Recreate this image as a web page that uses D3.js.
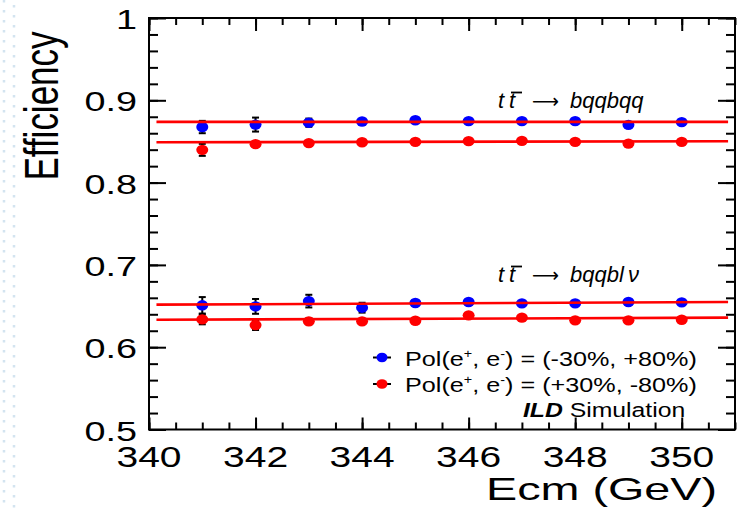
<!DOCTYPE html>
<html><head><meta charset="utf-8">
<script src="https://cdn.jsdelivr.net/npm/d3@7"></script>
<style>
body{margin:0;background:#fff}
svg{display:block}
text{font-family:"Liberation Sans",Arial,Helvetica,sans-serif;fill:#000}
</style>
</head><body>
<svg id="c" width="741" height="510"></svg>
<script>
// ---------------- data ----------------
const ecm = [341, 342, 343, 344, 345, 346, 347, 348, 349, 350];

// t tbar -> bqqbqq (fully hadronic)
const hadBlue    = [0.8675, 0.8705, 0.8728, 0.8743, 0.8757, 0.8747, 0.8747, 0.8747, 0.8702, 0.8735];
const hadBlueErr = [0.0075, 0.0085, 0.0050, 0.0020, 0.0020, 0.0020, 0.0020, 0.0020, 0.0020, 0.0020];
const hadRed     = [0.8398, 0.8467, 0.8480, 0.8490, 0.8495, 0.8504, 0.8507, 0.8495, 0.8474, 0.8495];
const hadRedErr  = [0.0073, 0.0025, 0.0020, 0.0020, 0.0020, 0.0020, 0.0020, 0.0020, 0.0020, 0.0020];

// t tbar -> bqqbl nu (semi-leptonic)
const semBlue    = [0.6509, 0.6496, 0.6560, 0.6480, 0.6537, 0.6549, 0.6533, 0.6533, 0.6549, 0.6545];
const semBlueErr = [0.0100, 0.0090, 0.0077, 0.0060, 0.0035, 0.0020, 0.0020, 0.0020, 0.0020, 0.0020];
const semRed     = [0.6338, 0.6269, 0.6314, 0.6314, 0.6322, 0.6387, 0.6359, 0.6326, 0.6326, 0.6334];
const semRedErr  = [0.0060, 0.0060, 0.0035, 0.0020, 0.0020, 0.0020, 0.0020, 0.0020, 0.0020, 0.0020];

// linear fits: value at start / end of fit range
const fitRange   = [340.14, 350.87];
const fitHadBlue = [0.8738, 0.8738];
const fitHadRed  = [0.8490, 0.8502];
const fitSemBlue = [0.6517, 0.6549];
const fitSemRed  = [0.6334, 0.6359];

// axes
const xDomain = [340, 351];
const yDomain = [0.5, 1];
const xTicks = [340, 342, 344, 346, 348, 350];
const xTickLabels = ["340", "342", "344", "346", "348", "350"];
const yTicks = [0.5, 0.6, 0.7, 0.8, 0.9, 1.0];
const yTickLabels = ["0.5", "0.6", "0.7", "0.8", "0.9", "1"];
const xTitle = "Ecm (GeV)";
const yTitle = "Efficiency";
const legendLabels = [["Pol(e", "+", ", e", "-", ") = (-30%, +80%)"],
                      ["Pol(e", "+", ", e", "-", ") = (+30%, -80%)"]];
const procTails = [["bqqbqq"], ["bqqbl", "\u03bd"]];
const colors = ["#0000ff", "#ff0000"];

// ---------------- drawing ----------------
const svg = d3.select("#c");
const x = d3.scaleLinear(xDomain, [149, 735]);
const y = d3.scaleLinear(yDomain, [429.5, 18]);

// slide background dots on the left
const bg = svg.append("g");
[4, 14].forEach((cx, k) => {
  bg.append("line").attr("x1", cx).attr("x2", cx).attr("y1", k * 5).attr("y2", 510)
    .attr("stroke", "#d3e4f0").attr("stroke-width", 2.5).attr("stroke-dasharray", "2.5,7.5");
});

const xMinor = d3.range(340, 351.001, 0.5);
const yMinor = d3.range(0.5, 1.0001, 0.02);

function styleAxis(g) {
  g.select(".domain").remove();
  g.selectAll("line").attr("stroke", "#000").attr("stroke-width", 2);
}
const pBottom = y(0.5), pTop = y(1), pLeft = x(340), pRight = x(351);

svg.append("g").attr("transform", `translate(0,${pBottom})`)
  .call(d3.axisBottom(x).tickValues(xMinor).tickSize(-7).tickFormat("")).call(styleAxis);
svg.append("g").attr("transform", `translate(0,${pBottom})`)
  .call(d3.axisBottom(x).tickValues(xTicks).tickSize(-12).tickFormat("")).call(styleAxis);
svg.append("g").attr("transform", `translate(0,${pTop})`)
  .call(d3.axisTop(x).tickValues(xMinor).tickSize(-7).tickFormat("")).call(styleAxis);
svg.append("g").attr("transform", `translate(0,${pTop})`)
  .call(d3.axisTop(x).tickValues(xTicks).tickSize(-13).tickFormat("")).call(styleAxis);
svg.append("g").attr("transform", `translate(${pLeft},0)`)
  .call(d3.axisLeft(y).tickValues(yMinor).tickSize(-9).tickFormat("")).call(styleAxis);
svg.append("g").attr("transform", `translate(${pLeft},0)`)
  .call(d3.axisLeft(y).tickValues(yTicks).tickSize(-17).tickFormat("")).call(styleAxis);
svg.append("g").attr("transform", `translate(${pRight},0)`)
  .call(d3.axisRight(y).tickValues(yMinor).tickSize(-9).tickFormat("")).call(styleAxis);
svg.append("g").attr("transform", `translate(${pRight},0)`)
  .call(d3.axisRight(y).tickValues(yTicks).tickSize(-17).tickFormat("")).call(styleAxis);

svg.append("rect").attr("x", pLeft).attr("y", pTop)
  .attr("width", pRight - pLeft).attr("height", pBottom - pTop)
  .attr("fill", "none").attr("stroke", "#000").attr("stroke-width", 2);

// tick labels
svg.append("g").selectAll("text").data(yTicks).join("text")
  .attr("transform", d => `translate(137,${y(d) + 11}) scale(1.4,1)`)
  .attr("text-anchor", "end").attr("font-size", 27)
  .text((d, i) => yTickLabels[i]);
svg.append("g").selectAll("text").data(xTicks).join("text")
  .attr("transform", d => `translate(${x(d)},467) scale(1.3,1)`)
  .attr("text-anchor", "middle").attr("font-size", 30)
  .text((d, i) => xTickLabels[i]);

// axis titles
svg.append("text").attr("transform", "translate(717,500) scale(1.46,1)")
  .attr("text-anchor", "end").attr("font-size", 32).text(xTitle);
svg.append("text").attr("transform", "translate(58,106) scale(1.38,1) rotate(-90)")
  .attr("text-anchor", "middle").attr("font-size", 35).text(yTitle);

// data series
const series = [
  {v: hadBlue, e: hadBlueErr, c: 0},
  {v: hadRed,  e: hadRedErr,  c: 1},
  {v: semBlue, e: semBlueErr, c: 0},
  {v: semRed,  e: semRedErr,  c: 1}
];
const fits = [fitHadBlue, fitHadRed, fitSemBlue, fitSemRed];

const gData = svg.append("g");
series.forEach(s => {
  const pts = ecm.map((xv, i) => ({x: xv, v: s.v[i], e: s.e[i]}));
  const g = gData.append("g");
  g.selectAll("line.eb").data(pts).join("line").attr("class", "eb")
    .attr("x1", d => x(d.x)).attr("x2", d => x(d.x))
    .attr("y1", d => y(d.v + d.e)).attr("y2", d => y(d.v - d.e))
    .attr("stroke", "#000").attr("stroke-width", 2);
  g.selectAll("line.ct").data(pts).join("line").attr("class", "ct")
    .attr("x1", d => x(d.x) - 3.5).attr("x2", d => x(d.x) + 3.5)
    .attr("y1", d => y(d.v + d.e)).attr("y2", d => y(d.v + d.e))
    .attr("stroke", "#000").attr("stroke-width", 2);
  g.selectAll("line.cb").data(pts).join("line").attr("class", "cb")
    .attr("x1", d => x(d.x) - 3.5).attr("x2", d => x(d.x) + 3.5)
    .attr("y1", d => y(d.v - d.e)).attr("y2", d => y(d.v - d.e))
    .attr("stroke", "#000").attr("stroke-width", 2);
  g.selectAll("ellipse").data(pts).join("ellipse")
    .attr("cx", d => x(d.x)).attr("cy", d => y(d.v))
    .attr("rx", 6).attr("ry", 5.2).attr("fill", colors[s.c]);
});

// fit lines
const line = d3.line().x(d => x(d[0])).y(d => y(d[1]));
fits.forEach(f => {
  svg.append("path").attr("d", line([[fitRange[0], f[0]], [fitRange[1], f[1]]]))
    .attr("fill", "none").attr("stroke", "#ff0000").attr("stroke-width", 2.6);
});

// process labels:  t tbar -> ...
function procLabel(yBase, tail) {
  const g = svg.append("g");
  const t = g.append("text").attr("y", yBase).attr("font-size", 22);
  t.append("tspan").attr("x", 498).attr("font-style", "italic").text("t");
  t.append("tspan").attr("x", 509).attr("font-style", "italic").text("t");
  t.append("tspan").attr("x", 532).attr("font-family", "DejaVu Sans").attr("font-size", 20)
    .attr("textLength", 27).attr("lengthAdjust", "spacingAndGlyphs").text("\u27f6");
  t.append("tspan").attr("x", 570).attr("font-style", "italic").text(tail[0]);
  if (tail[1]) t.append("tspan").attr("x", 628).attr("font-style", "italic").text(tail[1]);
  g.append("line").attr("x1", 511).attr("x2", 522)
    .attr("y1", yBase - 15.5).attr("y2", yBase - 15.5)
    .attr("stroke", "#000").attr("stroke-width", 1.8);
}
procLabel(108, procTails[0]);
procLabel(282, procTails[1]);

// legend
const legRows = [357.5, 384];
legRows.forEach((ry, i) => {
  svg.append("line").attr("x1", 373).attr("x2", 391).attr("y1", ry).attr("y2", ry)
    .attr("stroke", "#000").attr("stroke-width", 2);
  svg.append("ellipse").attr("cx", 382).attr("cy", ry).attr("rx", 5.5).attr("ry", 4.8)
    .attr("fill", colors[i]);
  const t = svg.append("text").attr("transform", `translate(405,${ry + 8}) scale(1.2,1)`)
    .attr("font-size", 21);
  const parts = legendLabels[i];
  t.append("tspan").text(parts[0]);
  t.append("tspan").attr("font-size", 12).attr("dy", -8).text(parts[1]);
  t.append("tspan").attr("dy", 8).text(parts[2]);
  t.append("tspan").attr("font-size", 12).attr("dy", -8).text(parts[3]);
  t.append("tspan").attr("dy", 8).text(parts[4]);
});

// ILD Simulation
const ild = svg.append("text").attr("transform", "translate(523,417) scale(1.27,1)")
  .attr("font-size", 19.5);
ild.append("tspan").attr("font-weight", "bold").attr("font-style", "italic").text("ILD");
ild.append("tspan").text(" Simulation");
</script>
</body></html>
